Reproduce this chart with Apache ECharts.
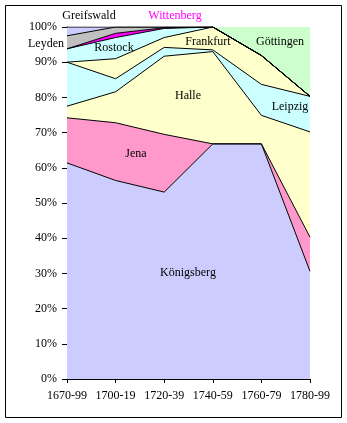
<!DOCTYPE html>
<html><head><meta charset="utf-8">
<script src="https://cdn.jsdelivr.net/npm/echarts@6/dist/echarts.min.js"></script>
<style>html,body{margin:0;padding:0;background:#fff}#c{width:347px;height:423px}</style>
</head><body><div id="c"></div>
<script>
const categories = ['1670-99','1700-19','1720-39','1740-59','1760-79','1780-99'];
const koenigsberg = [61.4, 56.4, 53.1, 66.8, 66.8, 30.6];
const jena        = [12.8, 16.4, 16.4, 0,    0,    9.7];
const halle       = [3.3,  8.8,  22.2, 26.2, 8.1,  29.9];
const leipzig     = [12.5, 3.7,  2.5,  0.5,  8.8,  10.1];
const frankfurt   = [0,    5.7,  2.8,  6.5,  8.2,  0];
const rostock     = [3.8,  6.0,  2.6,  0,    0,    0];
const wittenberg  = [0,    1.2,  0.2,  0,    0,    0];
const leyden      = [3.7,  1.8,  0.2,  0,    0,    0];
const greifswald  = [2.5,  0,    0,    0,    0,    0];
const goettingen  = [0,    0,    0,    0,    8.1,  19.7];

const seriesDefs = [
  ['Königsberg', koenigsberg, '#CCCCFF', true],
  ['Jena', jena, '#FF99CC', true],
  ['Halle', halle, '#FFFFCC', true],
  ['Leipzig', leipzig, '#CCFFFF', true],
  ['Frankfurt', frankfurt, '#FFFFCC', true],
  ['Rostock', rostock, '#CCFFFF', true],
  ['Wittenberg', wittenberg, '#FF00FF', true],
  ['Leyden', leyden, '#C0C0C0', true],
  ['Greifswald', greifswald, '#CCCCFF', true],
  ['Göttingen', goettingen, '#CCFFCC', false]
];

const FONT = "'Liberation Serif','Times New Roman',serif";
const series = [];
seriesDefs.forEach(([name, data, color]) => {
  series.push({
    name, type: 'line', stack: 'area', data, symbol: 'none', smooth: false,
    lineStyle: { width: 0, opacity: 0 },
    areaStyle: { color, opacity: 1 },
    z: 2, silent: true
  });
});
seriesDefs.forEach(([name, data, color, border]) => {
  series.push({
    name: name + ' line', type: 'line', stack: 'lines', data, symbol: 'none',
    lineStyle: { width: 1, color: '#000', opacity: border ? 1 : 0 },
    z: 3, silent: true
  });
});

const labels = [
  ['Greifswald', 89, 16, '#000'],
  ['Wittenberg', 175, 16, '#FF00FF'],
  ['Leyden', 46, 44, '#000'],
  ['Rostock', 114, 48, '#000'],
  ['Frankfurt', 208, 42, '#000'],
  ['Göttingen', 280, 42, '#000'],
  ['Halle', 188, 96, '#000'],
  ['Leipzig', 290, 107, '#000'],
  ['Jena', 136, 154, '#000'],
  ['Königsberg', 188, 273, '#000']
];

const chart = echarts.init(document.getElementById('c'), null, { renderer: 'canvas' });
chart.setOption({
  animation: false,
  backgroundColor: '#fff',
  grid: { left: 67, right: 37, top: 27, bottom: 44, containLabel: false },
  xAxis: {
    type: 'category', data: categories, boundaryGap: false,
    axisLine: { lineStyle: { color: '#000', width: 1 } },
    axisTick: { show: true, length: 4, alignWithLabel: true, lineStyle: { color: '#000' } },
    axisLabel: { color: '#000', fontFamily: FONT, fontSize: 12, margin: 11, interval: 0 },
    splitLine: { show: false }
  },
  yAxis: {
    type: 'value', min: 0, max: 100, interval: 10,
    axisLine: { show: true, lineStyle: { color: '#000', width: 1 } },
    axisTick: { show: true, length: 5, lineStyle: { color: '#000' } },
    axisLabel: { color: '#000', fontFamily: FONT, fontSize: 12, margin: 10, formatter: '{value}%' },
    splitLine: { show: false }
  },
  series,
  graphic: [
    { type: 'rect', shape: { x: 5.5, y: 5.5, width: 336, height: 412 },
      style: { fill: 'none', stroke: '#000', lineWidth: 1 }, z: 0, silent: true }
  ].concat(labels.map(([t, x, y, c]) => ({
    type: 'text', x, y, z: 10, silent: true,
    style: { text: t, fill: c, font: '12px ' + FONT, align: 'center', verticalAlign: 'middle' }
  })))
});
</script>
</body></html>
